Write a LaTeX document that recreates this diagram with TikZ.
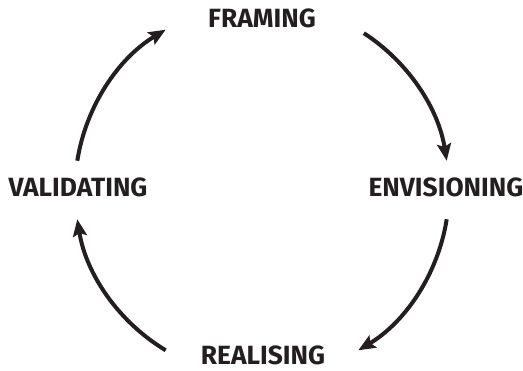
\documentclass[tikz,border=0pt]{standalone}
\usepackage{fontspec}
\setmainfont{Fira Sans}
\usetikzlibrary{calc,arrows.meta}

\definecolor{ink}{HTML}{231F20}
\tikzset{
  stage/.style={font=\bfseries\fontsize{37.5}{37.5}\selectfont, text=ink, inner sep=0pt},
  cyclearrow/.style={draw=ink, line width=2mm, -{Stealth[length=8.5mm, width=7mm, inset=1.5mm]}}
}

\begin{document}
\begin{tikzpicture}
				%\draw[color=gray,step=5mm, help lines,opacity=0.3] (0mm,0mm) grid (261.5mm,185mm); %help grids
				\useasboundingbox (0mm,0mm) rectangle (261.5mm,185mm);
				\coordinate (c) at (131mm,90mm);

				\node[stage] (framing) at (131mm,176mm) {FRAMING};
				\node[stage] (envisioning) at (223mm,91.5mm) {ENVISIONING};
				\node[stage] (realising) at (131.5mm,7.5mm) {REALISING};
				\node[stage] (validating) at (39mm,91.5mm) {VALIDATING};

				\coordinate (framing-out) at ($(c)+(57:93.5mm)$);
				\coordinate (envisioning-out) at ($(c)+(-9:93.5mm)$);
				\coordinate (realising-out) at ($(c)+(-121:93.5mm)$);
				\coordinate (validating-out) at ($(c)+(171:93.5mm)$);

				\draw[cyclearrow] (framing-out) arc[start angle=57, end angle=9, radius=93.5mm];
				\draw[cyclearrow] (envisioning-out) arc[start angle=-9, end angle=-59, radius=93.5mm];
				\draw[cyclearrow] (realising-out) arc[start angle=-121, end angle=-171, radius=93.5mm];
				\draw[cyclearrow] (validating-out) arc[start angle=171, end angle=121, radius=93.5mm];
\end{tikzpicture}
\end{document}
